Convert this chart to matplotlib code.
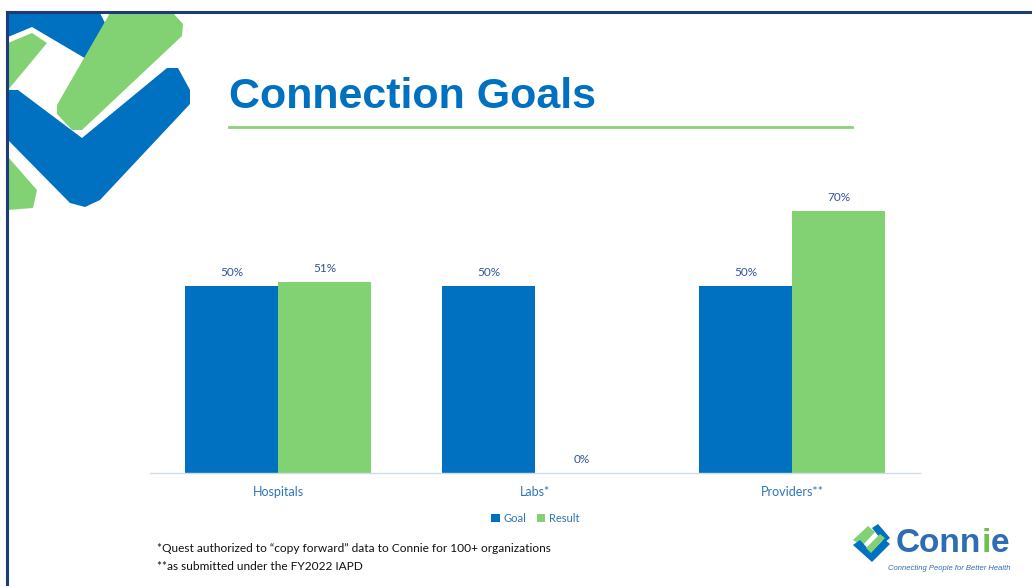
import numpy as np
import matplotlib.pyplot as plt
from matplotlib.patches import Polygon
from matplotlib.lines import Line2D

categories = ['Hospitals', 'Labs*', 'Providers**']
goal = [50, 50, 50]
result = [51, 0, 70]
series_names = ['Goal', 'Result']

BLUE = '#0070C0'
GREEN = '#82D173'
LABEL = '#2F5597'
TICK = '#2E75B6'

W, H = 1032, 586
fig = plt.figure(figsize=(W / 100, H / 100), dpi=100)
fig.patch.set_facecolor('white')

def px(x0, y0, x1, y1):
    # pixel box (top-left origin) -> figure fraction rect
    return [x0 / W, 1 - y1 / H, (x1 - x0) / W, (y1 - y0) / H]

# overlay axes in pixel coordinates for the slide decoration
deco = fig.add_axes([0, 0, 1, 1])
deco.set_xlim(0, W)
deco.set_ylim(H, 0)
deco.axis('off')

# slide border
deco.add_line(Line2D([7, W], [12, 12], color='#1F3A78', lw=2.2))
deco.add_line(Line2D([7, 7], [12, H], color='#1F3A78', lw=2.2))

# top-left logo (approximate shapes)
deco.add_patch(Polygon([(8, 43), (32, 33), (47, 43), (8, 90)], closed=True, color=GREEN, lw=0))
deco.add_patch(Polygon([(8, 13), (100, 13), (110, 33), (88, 60), (32, 27), (8, 37)],
                       closed=True, color=BLUE, lw=0))
deco.add_patch(Polygon([(110, 13), (173, 13), (183, 24), (182, 36), (82, 130), (72, 130),
                        (57, 114), (57, 105)], closed=True, color=GREEN, lw=0))
deco.add_patch(Polygon([(8, 90), (18, 90), (82, 138), (167, 68), (178, 68), (190, 90),
                        (190, 104), (100, 200), (85, 207), (70, 203), (8, 140)],
                       closed=True, color=BLUE, lw=0))
deco.add_patch(Polygon([(8, 157), (37, 190), (33, 208), (8, 210)], closed=True, color=GREEN, lw=0))

# title and underline
deco.text(229, 97, 'Connection Goals', fontsize=31, fontweight='bold', color=BLUE,
          family='Liberation Sans', va='center', ha='left')
deco.add_line(Line2D([229, 852], [127, 127], color='#8CD17D', lw=2))

# footnotes
deco.text(157, 549, '*Quest authorized to \u201ccopy forward\u201d data to Connie for 100+ organizations',
          fontsize=8.6, family='Lato', va='center', ha='left', color='#111111')
deco.text(157, 566, '**as submitted under the FY2022 IAPD',
          fontsize=8.6, family='Lato', va='center', ha='left', color='#111111')

# bottom-right logo
deco.add_patch(Polygon([(853, 540), (868, 526), (875, 532), (862, 546)], closed=True, color=GREEN, lw=0))
deco.add_patch(Polygon([(872, 528), (878, 524), (890, 538), (884, 543)], closed=True, color=BLUE, lw=0))
deco.add_patch(Polygon([(853, 545), (860, 540), (871, 552), (884, 539), (890, 544), (872, 562)],
                       closed=True, color=BLUE, lw=0))
deco.add_patch(Polygon([(866, 548), (880, 534), (885, 538), (871, 553)], closed=True, color=GREEN, lw=0))

renderer = fig.canvas.get_renderer()
xpos = 896
for part, col in (('Conn', '#2E6DB4'), ('i', '#6CC24A'), ('e', '#2E6DB4')):
    t = deco.text(xpos, 543, part, fontsize=24, fontweight='bold', color=col,
                  family='Liberation Sans', va='center', ha='left')
    bb = t.get_window_extent(renderer=renderer)
    xpos += bb.width * W / fig.bbox.width
deco.text(1011, 568, 'Connecting People for Better Health', fontsize=5.5, style='italic',
          color='#2E6DB4', family='Liberation Sans', va='center', ha='right')

# chart
ax = fig.add_axes(px(150, 174, 920.5, 473))
x = np.arange(len(categories))
bw = 0.362
b1 = ax.bar(x - bw / 2, goal, bw, color=BLUE, label=series_names[0])
b2 = ax.bar(x + bw / 2, result, bw, color=GREEN, label=series_names[1])
for bars, vals in ((b1, goal), (b2, result)):
    for r, v in zip(bars, vals):
        ax.annotate(f'{v}%', (r.get_x() + r.get_width() / 2, v), xytext=(0, 6),
                    textcoords='offset points', ha='center', va='bottom',
                    fontsize=8.5, color=LABEL, family='Lato')

ax.set_xlim(-0.5, 2.5)
ax.set_ylim(0, 80)
ax.set_yticks([])
ax.set_xticks(x)
ax.set_xticklabels(categories, fontsize=9, color=TICK, family='Lato')
ax.tick_params(axis='x', length=0, pad=9)
for s in ['top', 'right', 'left']:
    ax.spines[s].set_visible(False)
ax.spines['bottom'].set_color('#D0DCEB')
ax.spines['bottom'].set_linewidth(1)
ax.patch.set_alpha(0)

leg = ax.legend(loc='upper center', bbox_to_anchor=(0.5, -0.1), ncol=2, frameon=False,
                fontsize=8, handlelength=0.75, handleheight=0.75, handletextpad=0.3,
                columnspacing=1.0)
for t in leg.get_texts():
    t.set_color(TICK)
    t.set_family('Lato')

fig.savefig('out.png', dpi=100, facecolor='white')
